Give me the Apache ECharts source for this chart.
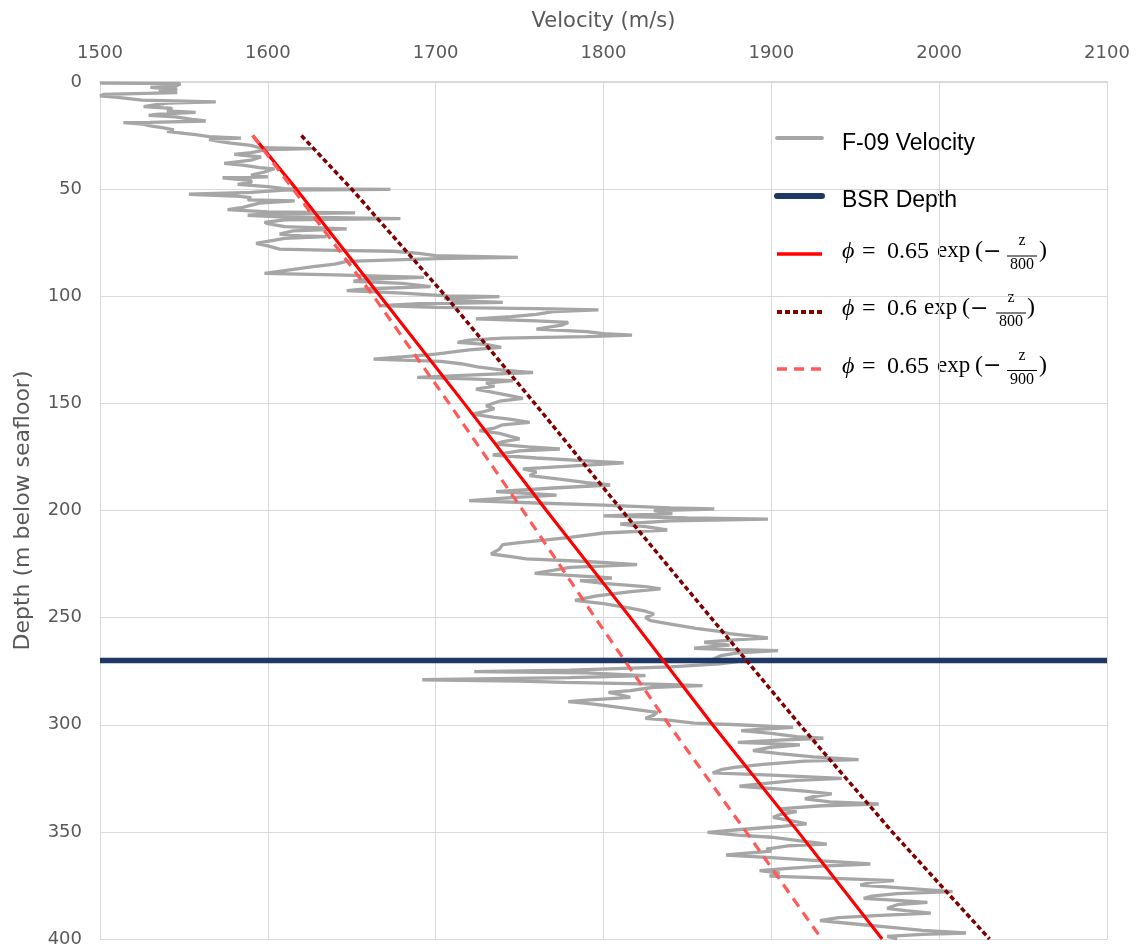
<!DOCTYPE html>
<html>
<head>
<meta charset="utf-8">
<title>F-09 velocity vs depth</title>
<script src="https://cdn.jsdelivr.net/npm/echarts@6/dist/echarts.min.js"></script>
<style>
  html, body { margin: 0; padding: 0; background: #ffffff; }
  #chart { width: 1144px; height: 951px; }
</style>
</head>
<body>
<div id="chart"></div>
<script>
// ---- Well F-09 sonic log: depth (m below seafloor) and P-wave velocity (m/s)
const logDepth = [
  0.5, 0.8, 2.0, 2.5, 3.5, 4.5, 5.0, 5.8, 6.5, 7.3, 8.5, 9.3, 9.8, 11.5, 12.3, 13.5, 14.2, 15.0,
  15.6, 16.3, 17.5, 18.2, 18.8, 19.0, 19.6, 20.5, 21.3, 22.3, 23.0, 24.0, 24.6, 25.5, 26.2, 26.8,
  27.6, 28.5, 29.6, 30.7, 31.1, 31.5, 33.0, 33.8, 35.0, 36.5, 38.0, 38.8, 40.0, 40.5, 42.0, 43.5,
  44.3, 44.7, 46.0, 47.0, 47.8, 48.8, 49.8, 50.1, 50.5, 51.5, 52.4, 53.2, 54.0, 55.0, 55.5, 56.5,
  58.5, 59.6, 60.6, 61.1, 61.5, 62.2, 63.0, 63.8, 64.3, 65.5, 66.1,
  67.5, 68.6, 69.5, 71.0, 71.8, 72.2, 73.0, 75.3, 76.5, 78.0, 78.6, 79.0, 80.0, 81.0, 81.9, 82.4,
  83.7, 85.0, 86.2, 88.0, 89.3, 90.0, 91.2, 92.0, 93.0, 94.0, 95.5, 96.5, 97.4, 98.5, 99.8, 100.2,
  101.0, 102.0, 102.9, 103.5, 104.4, 105.2, 105.8, 106.4, 107.2, 108.5, 109.5, 110.6, 111.5, 112.2,
  113.5, 115.3, 116.5, 117.5, 118.1, 118.8, 119.5, 120.5, 121.5, 122.5, 123.9, 125.0, 127.0, 129.3,
  129.8, 130.4, 131.5, 133.0, 134.5, 135.6,
  136.5, 137.9, 138.6, 139.4, 140.5, 142.0, 143.3, 145.0, 146.5, 147.7, 149.0, 151.1, 152.5, 154.0,
  155.0, 156.5, 157.5, 158.9, 160.0, 161.5, 162.7, 164.0, 165.5, 166.6, 167.8, 169.0, 170.3, 171.3,
  172.2, 174.1, 175.5, 176.8, 177.8, 178.8, 180.6, 182.0, 183.7, 185.5, 187.0, 188.1, 189.5, 191.2,
  192.0, 192.8, 194.0, 195.4, 196.5, 197.5, 198.8, 199.3, 200.0, 201.5, 202.5, 203.5, 204.0, 204.8,
  206.3, 207.5, 209.1,
  210.5, 212.5, 213.7, 215.0, 215.9, 218.0, 220.3, 221.5, 222.6, 223.8, 225.3, 226.5, 228.0, 229.3,
  230.5, 231.5, 232.7, 234.0, 235.5, 236.6, 238.0, 240.0, 242.0, 243.5, 245.5, 247.0, 248.3, 250.0,
  251.4, 253.0, 255.0, 256.4, 257.5, 259.5, 260.3, 261.5, 262.8, 264.3, 265.0, 265.4, 266.5, 267.7,
  269.5, 270.5,
  271.6, 273.0, 274.5, 275.2, 275.8, 277.1, 278.0, 279.0, 279.6, 280.2, 281.0, 281.7, 282.5, 284.1,
  284.9, 286.0, 287.2, 288.5, 289.2, 290.0, 290.8, 292.5, 294.2, 295.5, 297.0, 298.0, 299.2, 300.0,
  301.2, 302.0, 302.7, 304.0, 305.5, 306.3, 307.2, 308.2, 308.8, 309.4, 310.5, 312.1, 313.5, 315.0,
  316.3, 317.0, 318.5, 319.9, 321.0, 322.5, 323.5, 325.0, 326.0, 327.5, 328.7, 330.0, 331.0, 332.3,
  333.5, 334.6, 336.0, 337.0, 337.8,
  339.3, 340.5, 342.0, 343.2, 344.5, 346.3, 347.5, 349.0, 350.2, 351.5, 352.5, 354.0, 355.7, 356.5,
  358.0, 359.0, 360.8, 362.0, 363.5, 365.0, 366.0, 367.0, 368.1, 369.2, 370.7, 371.5, 372.8, 373.5,
  374.8, 376.0, 377.9, 378.8, 380.0, 381.0, 382.0, 382.9, 384.0, 385.7, 386.8, 387.9, 389.0, 390.0,
  391.4, 393.0, 394.5, 396.0, 397.2, 397.8, 398.8, 400.0
];
const logVelocity = [
  1500, 1548, 1545, 1530, 1546, 1535, 1546, 1502, 1500, 1512, 1525, 1569, 1540, 1526, 1543, 1540, 1557, 1535,
  1529, 1545, 1555, 1563, 1530, 1514, 1525, 1530, 1537, 1544, 1540, 1550, 1557, 1565, 1584, 1565,
  1570, 1578, 1590, 1595, 1626, 1600, 1590, 1580, 1596, 1590, 1574, 1585, 1595, 1604, 1598, 1590,
  1600, 1573, 1590, 1590, 1582, 1600, 1610, 1673, 1610, 1590, 1553, 1580, 1590, 1588, 1616, 1595,
  1585, 1576, 1600, 1652, 1605, 1588, 1610, 1679, 1610, 1598, 1600,
  1610, 1647, 1615, 1607, 1620, 1635, 1610, 1593, 1600, 1607, 1640, 1675, 1690, 1700, 1749, 1700,
  1647, 1640, 1627, 1610, 1598, 1640, 1693, 1660, 1651, 1680, 1697, 1660, 1647, 1680, 1707, 1738,
  1705, 1712, 1740, 1690, 1667, 1700, 1760, 1797, 1770, 1760, 1745, 1724, 1760, 1779,
  1775, 1760, 1790, 1800, 1817, 1790, 1740, 1720, 1713, 1730, 1739, 1720, 1700, 1663,
  1680, 1703, 1715, 1725, 1740, 1758,
  1730, 1689, 1720, 1746, 1730, 1735, 1724, 1735, 1745, 1752, 1738, 1730, 1735, 1728,
  1722, 1735, 1745, 1756, 1740, 1735, 1726, 1738, 1745, 1750, 1740, 1736, 1755, 1774,
  1750, 1734, 1760, 1790, 1812, 1790, 1752, 1760, 1756, 1775, 1790, 1804, 1770, 1736,
  1755, 1772, 1745, 1720, 1760, 1800, 1840, 1866, 1830, 1841, 1800, 1850, 1898, 1840,
  1810, 1825, 1838,
  1800, 1780, 1766, 1750, 1740, 1738, 1733, 1745, 1754, 1790, 1820, 1780, 1770, 1759,
  1785, 1805, 1786, 1800, 1825, 1834, 1815, 1795, 1783, 1800, 1815, 1825, 1830, 1825,
  1828, 1840, 1855, 1869, 1875, 1898, 1880, 1860, 1875, 1854, 1880, 1904, 1880, 1870,
  1865, 1880,
  1869, 1840, 1780, 1723, 1790, 1825, 1780, 1692, 1750, 1777, 1830, 1859, 1830, 1816,
  1803, 1810, 1816, 1790, 1779, 1790, 1799, 1815, 1832, 1830, 1825, 1840, 1854, 1880,
  1913, 1895, 1882, 1900, 1915, 1931, 1905, 1880, 1900, 1917, 1900, 1889, 1905, 1925,
  1952, 1920, 1895, 1878, 1870, 1865, 1900, 1942, 1915, 1895, 1881, 1905, 1920, 1936,
  1925, 1920, 1935, 1964, 1930,
  1905, 1915, 1905, 1901, 1910, 1921, 1905, 1880, 1862, 1880, 1900, 1915, 1933, 1910,
  1897, 1900, 1873, 1900, 1930, 1959, 1930, 1910, 1893, 1905, 1899, 1930, 1973, 1960,
  1953, 1975, 2008, 1975, 1960, 1955, 1975, 1993, 1975, 1969, 1980, 1995, 1965, 1940,
  1929, 1950, 1970, 1990, 2016, 1990, 1969, 1975
];

// ---- Velocity predicted from three porosity-depth trends
const modelDepth = [25, 50, 100, 150, 200, 250, 300, 350, 400];
const model065_800 = [1591, 1617, 1667, 1717, 1766, 1816, 1865, 1916, 1966];
const model060_800 = [1620, 1650, 1706, 1759, 1811, 1864, 1917, 1972, 2030];
const model065_900 = [1591, 1615, 1663, 1708, 1752, 1795, 1839, 1885, 1930];

// ---- Bottom-simulating reflector
const bsrDepth = 270;

// ---- Axes
const velocityMin = 1500, velocityMax = 2100, velocityStep = 100;
const depthMin = 0, depthMax = 400, depthStep = 50;

// ---- Series names / legend entries
const logName = 'F-09 Velocity';
const bsrName = 'BSR Depth';
const modelCoefs = ['0.65', '0.6', '0.65'];
const modelDecays = ['800', '800', '900'];

const zip = (ys, xs) => ys.map((y, i) => [xs[i], y]);

const styles = {
  log:  { color: '#a6a6a6', width: 3.3, type: 'solid' },
  bsr:  { color: '#203864', width: 5.5, type: 'solid' },
  m1:   { color: '#ff0000', width: 3.2, type: 'solid' },
  m2:   { color: '#800000', width: 3.5, type: [5, 3] },
  m3:   { color: '#ff5959', width: 3.2, type: [10, 7] }
};

const labelColor = '#595959';
const gridColor = '#d9d9d9';
const axisFont = 'DejaVu Sans';

// ---- Legend drawn as graphic elements (fractions need stacked text)
function buildLegend() {
  const els = [];
  const box = { x: 750, y: 115, w: 333, h: 297 };
  els.push({ type: 'rect', shape: { x: box.x, y: box.y, width: box.w, height: box.h },
             style: { fill: '#ffffff' }, silent: true });
  const symX1 = 777, symX2 = 822, textX = 842;
  const symbol = (y, st, cap) => ({
    type: 'line', silent: true,
    shape: { x1: symX1, y1: y, x2: symX2, y2: y },
    style: { stroke: st.color, lineWidth: st.width + 0.5,
             lineDash: Array.isArray(st.type) ? st.type : null, lineCap: cap || 'butt' }
  });
  const txt = (x, y, s, font, align) => ({
    type: 'text', x: x, y: y, silent: true,
    style: { text: s, font: font, fill: '#000000',
             textAlign: align || 'left', align: align || 'left',
             textVerticalAlign: 'middle', verticalAlign: 'middle' }
  });
  const sans = '23px "Liberation Sans", Arial, sans-serif';
  const serif = '24px "Liberation Serif", "DejaVu Serif", serif';
  const serifIt = 'italic 24px "Liberation Serif", "DejaVu Serif", serif';
  const expFont = '23px "Liberation Serif", "DejaVu Serif", serif';
  const minusFont = '22px "DejaVu Serif", serif';
  const small = '16px "Liberation Serif", "DejaVu Serif", serif';

  els.push(symbol(138, styles.log, 'round'));
  els.push(txt(textX, 144, logName, sans));
  els.push(symbol(196, styles.bsr, 'round'));
  els.push(txt(textX, 201, bsrName, sans));

  const rows = [
    { sym: 254, y: 252, st: styles.m1,
      pos: { phi: 842, eq: 862, coef: 887, exp: 937, lp: 975, minus: 983, frac: 1022, rp: 1039 } },
    { sym: 312, y: 309, st: styles.m2,
      pos: { phi: 842, eq: 862, coef: 887, exp: 924, lp: 962, minus: 970, frac: 1011, rp: 1027 } },
    { sym: 369, y: 366.5, st: styles.m3,
      pos: { phi: 842, eq: 862, coef: 887, exp: 937, lp: 975, minus: 983, frac: 1022, rp: 1039 } }
  ];
  rows.forEach((r, i) => {
    const p = r.pos;
    els.push(symbol(r.sym, r.st, 'butt'));
    els.push(txt(p.phi, r.y, '\u03D5', serifIt));
    els.push(txt(p.eq, r.y, '=', serif));
    els.push(txt(p.coef, r.y, modelCoefs[i], serif));
    els.push(txt(p.exp, r.y - 1, 'exp', expFont));
    els.push(txt(p.lp, r.y - 1, '(', serif));
    els.push(txt(p.minus, r.y, '\u2212', minusFont));
    els.push(txt(p.frac, r.y - 11, 'z', small, 'center'));
    els.push({ type: 'line', silent: true,
               shape: { x1: p.frac - 15, y1: r.y + 4, x2: p.frac + 15, y2: r.y + 4 },
               style: { stroke: '#000000', lineWidth: 1 } });
    els.push(txt(p.frac, r.y + 13, modelDecays[i], small, 'center'));
    els.push(txt(p.rp, r.y - 1, ')', serif));
  });
  return [{ type: 'group', z: 50, children: els }];
}

const chart = echarts.init(document.getElementById('chart'), null, { renderer: 'canvas' });

chart.setOption({
  animation: false,
  backgroundColor: '#ffffff',
  grid: { left: 100, right: 37, top: 82, bottom: 12 },
  xAxis: {
    type: 'value',
    position: 'top',
    min: velocityMin, max: velocityMax, interval: velocityStep,
    name: 'Velocity (m/s)',
    nameLocation: 'middle',
    nameGap: 50,
    nameTextStyle: { color: labelColor, fontFamily: axisFont, fontSize: 21 },
    axisLine: { show: true, onZero: false, lineStyle: { color: gridColor, width: 2 } },
    axisTick: { show: false },
    axisLabel: { color: labelColor, fontFamily: axisFont, fontSize: 18, margin: 20,
                 formatter: v => String(v) },
    splitLine: { show: true, lineStyle: { color: gridColor, width: 1 } }
  },
  yAxis: {
    type: 'value',
    inverse: true,
    min: depthMin, max: depthMax, interval: depthStep,
    name: 'Depth (m below seafloor)',
    nameLocation: 'middle',
    nameGap: 66,
    nameRotate: 90,
    nameTextStyle: { color: labelColor, fontFamily: axisFont, fontSize: 22 },
    axisLine: { show: true, onZero: false, lineStyle: { color: gridColor, width: 1 } },
    axisTick: { show: false },
    axisLabel: { color: labelColor, fontFamily: axisFont, fontSize: 18, margin: 18,
                 formatter: v => String(v) },
    splitLine: { show: true, lineStyle: { color: gridColor, width: 1 } }
  },
  series: [
    {
      name: logName, type: 'line', showSymbol: false, symbol: 'none', z: 2,
      data: zip(logDepth, logVelocity),
      lineStyle: styles.log
    },
    {
      name: bsrName, type: 'line', showSymbol: false, symbol: 'none', z: 3,
      data: [[velocityMin, bsrDepth], [velocityMax, bsrDepth]],
      lineStyle: styles.bsr
    },
    {
      name: 'phi 0.65 exp(-z/800)', type: 'line', showSymbol: false, symbol: 'none', z: 4,
      data: zip(modelDepth, model065_800),
      lineStyle: styles.m1
    },
    {
      name: 'phi 0.6 exp(-z/800)', type: 'line', showSymbol: false, symbol: 'none', z: 4,
      data: zip(modelDepth, model060_800),
      lineStyle: styles.m2
    },
    {
      name: 'phi 0.65 exp(-z/900)', type: 'line', showSymbol: false, symbol: 'none', z: 4,
      data: zip(modelDepth, model065_900),
      lineStyle: styles.m3
    }
  ],
  graphic: buildLegend()
});
</script>
</body>
</html>
